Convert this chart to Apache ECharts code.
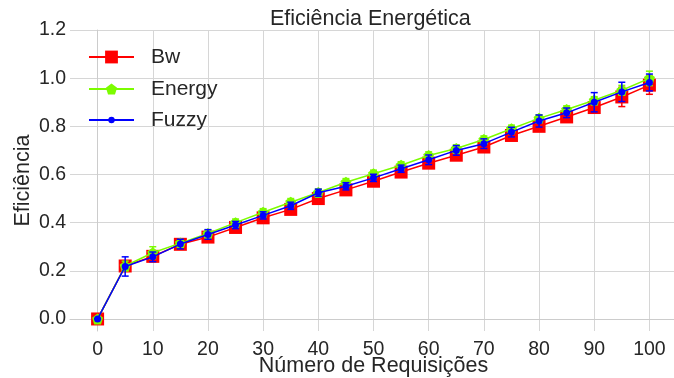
<!DOCTYPE html>
<html>
<head>
<meta charset="utf-8">
<script src="https://cdn.jsdelivr.net/npm/echarts@6/dist/echarts.min.js"></script>
<style>
  html, body { margin: 0; padding: 0; background: #fff; }
  #chart { width: 674px; height: 378px; }
</style>
</head>
<body>
<div id="chart"></div>
<script>
// Eficiência energética por número de requisições, three schedulers with error bars.
const requests = [0, 5, 10, 15, 20, 25, 30, 35, 40, 45, 50, 55, 60, 65, 70, 75, 80, 85, 90, 95, 100];

const bw     = [0, 0.22, 0.26, 0.31, 0.34, 0.38, 0.42, 0.455, 0.50, 0.536, 0.572, 0.61, 0.647, 0.68, 0.714, 0.762, 0.80, 0.839, 0.878, 0.922, 0.971];
const bwErr  = [0, 0.02, 0.02, 0.015, 0.015, 0.015, 0.015, 0.015, 0.015, 0.015, 0.015, 0.015, 0.015, 0.015, 0.015, 0.015, 0.015, 0.015, 0.015, 0.04, 0.038];

const energy    = [0, 0.22, 0.275, 0.315, 0.355, 0.40, 0.443, 0.485, 0.525, 0.568, 0.603, 0.638, 0.679, 0.708, 0.745, 0.79, 0.833, 0.87, 0.908, 0.95, 0.999];
const energyErr = [0, 0.02, 0.025, 0.015, 0.015, 0.015, 0.015, 0.015, 0.015, 0.015, 0.015, 0.015, 0.015, 0.015, 0.015, 0.015, 0.015, 0.015, 0.015, 0.02, 0.03];

const fuzzy    = [0, 0.218, 0.258, 0.311, 0.351, 0.39, 0.43, 0.47, 0.524, 0.551, 0.586, 0.624, 0.661, 0.70, 0.728, 0.776, 0.822, 0.856, 0.90, 0.943, 0.982];
const fuzzyErr = [0, 0.04, 0.02, 0.02, 0.02, 0.015, 0.015, 0.015, 0.015, 0.015, 0.015, 0.015, 0.02, 0.02, 0.02, 0.02, 0.025, 0.02, 0.04, 0.04, 0.035];

const xTicks = [0, 10, 20, 30, 40, 50, 60, 70, 80, 90, 100];
const yTicks = [0, 0.2, 0.4, 0.6, 0.8, 1.0, 1.2];

const pentagon = "path://M0,-1L0.951,-0.309L0.588,0.809L-0.588,0.809L-0.951,-0.309Z";
const TEXT = "#262626";
const GRID = "#d6d6d6";
const FONT = "Liberation Sans";

const pairs = (ys) => requests.map((x, i) => [x, ys[i]]);
const bars = (ys, errs) => requests.map((x, i) => [x, ys[i] - errs[i], ys[i] + errs[i]]);

function errorSeries(name, color, ys, errs, z) {
  return {
    type: "custom",
    name: name + " err",
    z,
    silent: true,
    data: bars(ys, errs),
    encode: { x: 0, y: [1, 2] },
    renderItem: (params, api) => {
      const lo = api.coord([api.value(0), api.value(1)]);
      const hi = api.coord([api.value(0), api.value(2)]);
      const cap = 3.5;
      const style = { stroke: color, lineWidth: 1.5 };
      return {
        type: "group",
        children: [
          { type: "line", shape: { x1: lo[0], y1: lo[1], x2: hi[0], y2: hi[1] }, style },
          { type: "line", shape: { x1: lo[0] - cap, y1: lo[1], x2: lo[0] + cap, y2: lo[1] }, style },
          { type: "line", shape: { x1: hi[0] - cap, y1: hi[1], x2: hi[0] + cap, y2: hi[1] }, style },
        ],
      };
    },
  };
}

function lineSeries(name, color, ys, symbol, size, z) {
  return {
    type: "line",
    name,
    z,
    data: pairs(ys),
    symbol,
    symbolSize: size,
    showAllSymbol: true,
    color,
    lineStyle: { color, width: 1.5 },
    itemStyle: { color },
    emphasis: { disabled: true },
  };
}

function legendFor(name, centerY, itemHeight) {
  return {
    data: [name],
    left: 88,
    top: centerY - 12,
    padding: 0,
    itemWidth: 45,
    itemHeight,
    selectedMode: false,
    textStyle: { color: TEXT, fontFamily: FONT, fontSize: 21, lineHeight: 24, padding: [0, 0, 0, 12] },
  };
}

const chart = echarts.init(document.getElementById("chart"));
chart.setOption({
  animation: false,
  backgroundColor: "#fff",
  title: {
    text: "Eficiência Energética",
    left: 270,
    top: 8,
    padding: 0,
    textStyle: { color: TEXT, fontFamily: FONT, fontSize: 21.5, fontWeight: "normal" },
  },
  legend: [
    legendFor("Bw", 57, 16),
    legendFor("Energy", 89, 14),
    legendFor("Fuzzy", 120, 8),
  ],
  grid: { left: 70, top: 30, width: 607, height: 301, show: false, containLabel: false, outerBoundsMode: "none" },
  xAxis: {
    type: "value",
    min: -5,
    max: 105,
    name: "Número de Requisições",
    nameLocation: "middle",
    nameGap: 24,
    nameMoveOverlap: false,
    nameTextStyle: { color: TEXT, fontFamily: FONT, fontSize: 21.5 },
    axisLine: { show: true, lineStyle: { color: "#cccccc", width: 1 } },
    axisTick: { show: false, customValues: xTicks },
    axisLabel: { customValues: xTicks, color: TEXT, fontFamily: FONT, fontSize: 19.5, margin: 9 },
    splitLine: { show: true, lineStyle: { color: GRID, width: 1 } },
  },
  yAxis: {
    type: "value",
    min: -0.05,
    max: 1.2,
    name: "Eficiência",
    nameLocation: "middle",
    nameRotate: 90,
    nameGap: 36,
    nameMoveOverlap: false,
    nameTextStyle: { color: TEXT, fontFamily: FONT, fontSize: 21.5 },
    axisLine: { show: true, lineStyle: { color: "#cccccc", width: 1 } },
    axisTick: { show: false, customValues: yTicks },
    axisLabel: { customValues: yTicks, color: TEXT, fontFamily: FONT, fontSize: 19.5, margin: 4,
      formatter: (v) => v.toFixed(1) },
    splitLine: { show: true, lineStyle: { color: GRID, width: 1 } },
  },
  series: [
    lineSeries("Bw", "#ff0000", bw, "rect", 13, 2),
    errorSeries("Bw", "#ff0000", bw, bwErr, 3),
    lineSeries("Energy", "#7cfc00", energy, pentagon, 11, 4),
    errorSeries("Energy", "#7cfc00", energy, energyErr, 5),
    lineSeries("Fuzzy", "#0000ff", fuzzy, "circle", 7, 6),
    errorSeries("Fuzzy", "#0000ff", fuzzy, fuzzyErr, 7),
  ],
});
</script>
</body>
</html>
